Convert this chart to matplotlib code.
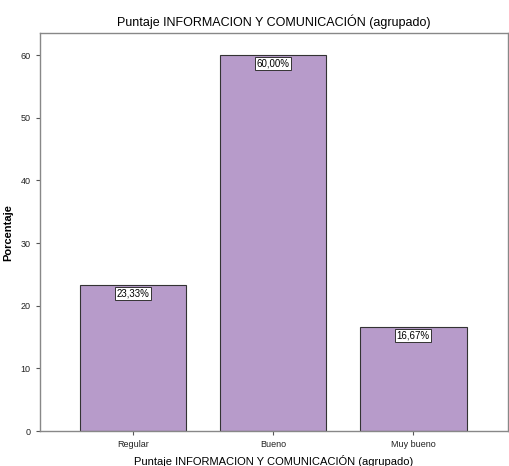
import numpy as np
import matplotlib.pyplot as plt

categorias = ["Regular", "Bueno", "Muy bueno"]
porcentajes = [23.33, 60.00, 16.67]
etiquetas = ["23,33%", "60,00%", "16,67%"]

plt.rcParams['font.family'] = ['Liberation Sans', 'DejaVu Sans']

fig = plt.figure(figsize=(5.1, 4.66), dpi=100)
ax = fig.add_axes([0.078, 0.075, 0.918, 0.854])

x = np.arange(len(categorias))
ax.bar(x, porcentajes, width=0.76, color="#b79bca", edgecolor="#333333", linewidth=0.8, zorder=2)

# etiquetas de valor dentro de las barras
for xi, v, t in zip(x, porcentajes, etiquetas):
    ax.text(xi, v - 0.6, t, ha="center", va="top", fontsize=7,
            bbox=dict(boxstyle="square,pad=0.15", fc="white", ec="#333333", lw=0.7))

ax.set_xlim(-0.665, 2.675)
ax.set_ylim(0, 63.5)
ax.set_yticks(range(0, 61, 10))
ax.set_xticks(x)
ax.set_xticklabels(categorias)
ax.tick_params(labelsize=6.5, colors="#222222", length=3, width=0.8)
ax.tick_params(axis="both", color="#555555")

for s in ax.spines.values():
    s.set_color("#888888")
    s.set_linewidth(1.0)

ax.set_title("Puntaje INFORMACION Y COMUNICACIÓN (agrupado)", fontsize=9, pad=5)
ax.set_ylabel("Porcentaje", fontsize=8, fontweight="bold", labelpad=5)
ax.set_xlabel("Puntaje INFORMACION Y COMUNICACIÓN (agrupado)", fontsize=8, labelpad=4)

fig.savefig("out.png", dpi=100)
